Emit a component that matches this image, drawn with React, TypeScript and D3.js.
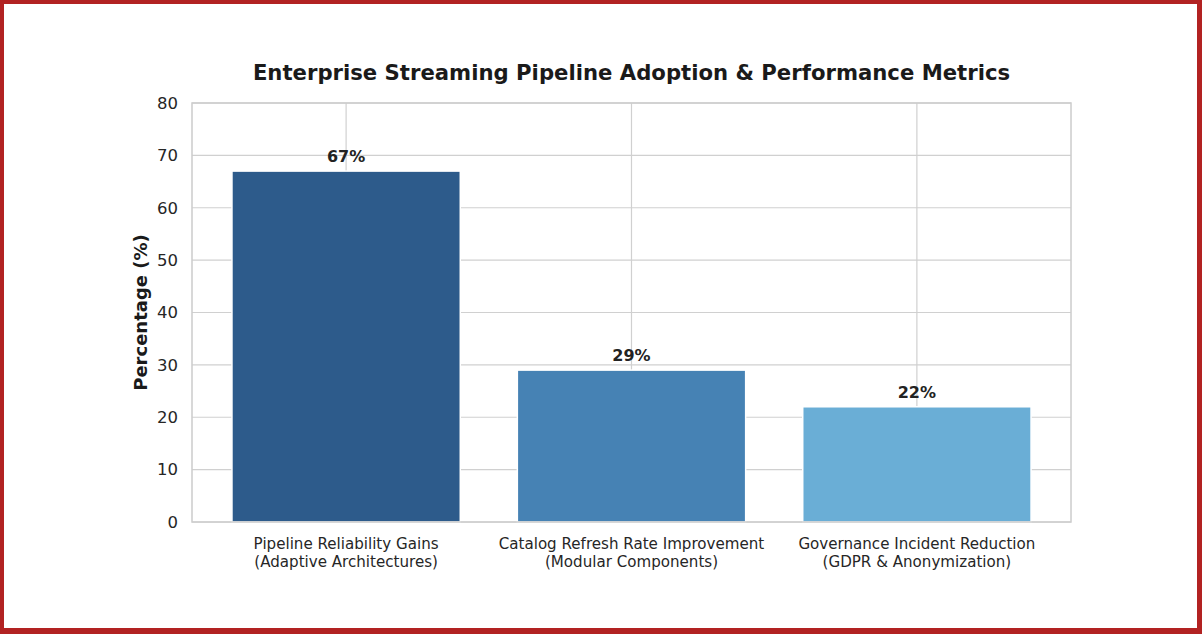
import { useEffect, useRef } from 'react';
import * as d3 from 'd3';

const categories = [
  ['Pipeline Reliability Gains', '(Adaptive Architectures)'],
  ['Catalog Refresh Rate Improvement', '(Modular Components)'],
  ['Governance Incident Reduction', '(GDPR & Anonymization)'],
];
const values = [67, 29, 22];
const barColors = ['#2d5b8b', '#4682b4', '#6aaed6'];
const yTicks = [0, 10, 20, 30, 40, 50, 60, 70, 80];

const W = 1202;
const H = 634;
const plot = { left: 192, right: 1071, top: 103, bottom: 522 };
const FONT = 'DejaVu Sans, sans-serif';

export default function App() {
  const ref = useRef<SVGSVGElement | null>(null);

  useEffect(() => {
    if (!ref.current) return;
    const svg = d3.select(ref.current);
    svg.selectAll('*').remove();

    svg.append('rect').attr('width', W).attr('height', H).attr('fill', '#ffffff');

    // category centres at 0..n-1, limits padded like matplotlib
    const x = d3.scaleLinear().domain([-0.54, 2.54]).range([plot.left, plot.right]);
    const y = d3.scaleLinear().domain([0, 80]).range([plot.bottom, plot.top]);
    const barW = x(0.8) - x(0);

    const grid = svg.append('g').attr('stroke', '#d0d0d0').attr('stroke-width', 1.2);
    grid
      .selectAll('line.h')
      .data(yTicks)
      .join('line')
      .attr('x1', plot.left)
      .attr('x2', plot.right)
      .attr('y1', (d) => y(d))
      .attr('y2', (d) => y(d));
    grid
      .selectAll('line.v')
      .data(values.map((_, i) => i))
      .join('line')
      .attr('x1', (d) => x(d))
      .attr('x2', (d) => x(d))
      .attr('y1', plot.top)
      .attr('y2', plot.bottom);

    svg
      .append('g')
      .selectAll('rect')
      .data(values)
      .join('rect')
      .attr('x', (_, i) => x(i) - barW / 2)
      .attr('y', (d) => y(d))
      .attr('width', barW)
      .attr('height', (d) => y(0) - y(d))
      .attr('fill', (_, i) => barColors[i])
      .attr('stroke', '#ffffff')
      .attr('stroke-width', 1.5);

    // spines
    svg
      .append('rect')
      .attr('x', plot.left)
      .attr('y', plot.top)
      .attr('width', plot.right - plot.left)
      .attr('height', plot.bottom - plot.top)
      .attr('fill', 'none')
      .attr('stroke', '#cccccc')
      .attr('stroke-width', 1.5);

    svg
      .append('g')
      .selectAll('text')
      .data(values)
      .join('text')
      .attr('x', (_, i) => x(i))
      .attr('y', (d) => y(d) - 9)
      .attr('text-anchor', 'middle')
      .attr('font-family', FONT)
      .attr('font-size', 16)
      .attr('font-weight', 'bold')
      .attr('fill', '#222222')
      .text((d) => `${d}%`);

    svg
      .append('g')
      .selectAll('text')
      .data(yTicks)
      .join('text')
      .attr('x', plot.left - 14)
      .attr('y', (d) => y(d))
      .attr('dy', '0.35em')
      .attr('text-anchor', 'end')
      .attr('font-family', FONT)
      .attr('font-size', 16.5)
      .attr('fill', '#262626')
      .text((d) => d);

    const xl = svg
      .append('g')
      .selectAll('text')
      .data(categories)
      .join('text')
      .attr('text-anchor', 'middle')
      .attr('font-family', FONT)
      .attr('font-size', 15.1)
      .attr('fill', '#262626');
    xl.each(function (d, i) {
      const t = d3.select(this);
      d.forEach((line, k) => {
        t.append('tspan')
          .attr('x', x(i))
          .attr('y', 549 + k * 18)
          .text(line);
      });
    });

    svg
      .append('text')
      .attr('transform', `translate(147, ${(plot.top + plot.bottom) / 2}) rotate(-90)`)
      .attr('text-anchor', 'middle')
      .attr('font-family', FONT)
      .attr('font-size', 18)
      .attr('font-weight', 'bold')
      .attr('fill', '#1a1a1a')
      .text('Percentage (%)');

    svg
      .append('text')
      .attr('x', (plot.left + plot.right) / 2)
      .attr('y', 80)
      .attr('text-anchor', 'middle')
      .attr('font-family', FONT)
      .attr('font-size', 21.2)
      .attr('font-weight', 'bold')
      .attr('fill', '#1a1a1a')
      .text('Enterprise Streaming Pipeline Adoption & Performance Metrics');

    // frame
    const border = svg.append('g').attr('fill', '#b22222');
    border.append('rect').attr('x', 0).attr('y', 0).attr('width', W).attr('height', 4);
    border.append('rect').attr('x', 0).attr('y', 0).attr('width', 4).attr('height', H);
    border.append('rect').attr('x', W - 5).attr('y', 0).attr('width', 5).attr('height', H);
    border.append('rect').attr('x', 0).attr('y', H - 6).attr('width', W).attr('height', 6);
  }, []);

  return (
    <svg
      ref={ref}
      width={W}
      height={H}
      style={{ position: 'absolute', left: 0, top: 0, display: 'block' }}
    />
  );
}
